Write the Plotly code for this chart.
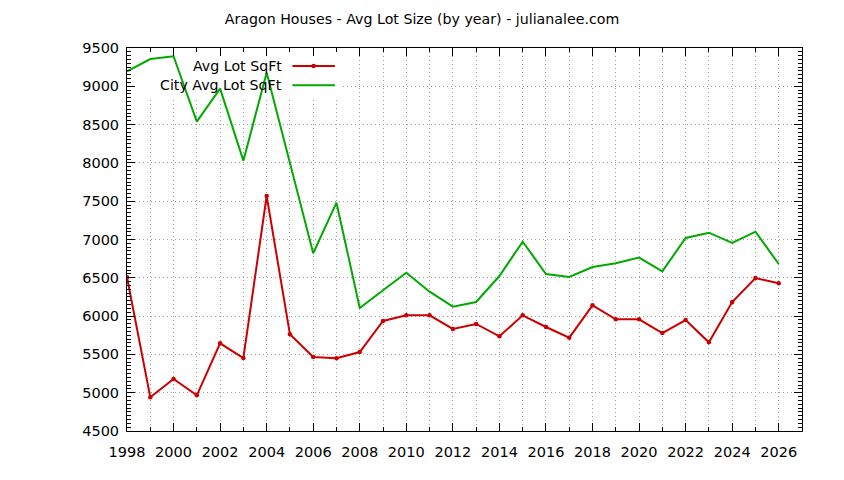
import plotly.graph_objects as go

years = list(range(1998, 2027))
avg_lot_sqft = [6507, 4940, 5179, 4966, 5645, 5453, 7568, 5762, 5466, 5449,
                5531, 5936, 6010, 6010, 5832, 5897, 5736, 6010, 5858, 5718,
                6141, 5958, 5958, 5779, 5949, 5658, 6184, 6497, 6428]
city_avg_lot_sqft = [9195, 9356, 9392, 8538, 8969, 8029, 9178, 7995, 6820, 7481,
                     6106, 6337, 6567, 6319, 6123, 6184, 6523, 6972, 6550, 6510,
                     6641, 6689, 6763, 6584, 7020, 7089, 6954, 7102, 6680]
series_names = ["Avg Lot SqFt", "City Avg Lot SqFt"]
title_text = "Aragon Houses - Avg Lot Size (by year) - julianalee.com"

X_RANGE = [1998, 2027]
Y_RANGE = [4500, 9500]

RED = "#cc0000"
GREEN = "#00aa00"
GRID = "#a0a0a0"
DOT = "1px,3px"
FONT = "DejaVu Sans"

fig = go.Figure()

# white key background (covers grid, sits under the data lines)
bx0 = X_RANGE[0] + 0.002 * (X_RANGE[1] - X_RANGE[0])
bx1 = X_RANGE[0] + 0.32 * (X_RANGE[1] - X_RANGE[0])
by0 = Y_RANGE[0] + 0.87 * (Y_RANGE[1] - Y_RANGE[0])
by1 = Y_RANGE[0] + 0.997 * (Y_RANGE[1] - Y_RANGE[0])
fig.add_trace(go.Scatter(x=[bx0, bx1, bx1, bx0, bx0], y=[by0, by0, by1, by1, by0],
                         mode="lines", fill="toself", fillcolor="white",
                         line=dict(width=0, color="white"),
                         hoverinfo="skip", showlegend=False))

fig.add_trace(go.Scatter(x=years, y=avg_lot_sqft, mode="lines+markers",
                         name=series_names[0],
                         line=dict(color=RED, width=2),
                         marker=dict(color=RED, size=4.5, symbol="circle"),
                         showlegend=False))
fig.add_trace(go.Scatter(x=years, y=city_avg_lot_sqft, mode="lines",
                         name=series_names[1],
                         line=dict(color=GREEN, width=2),
                         showlegend=False))

# Manual gnuplot-style key (text right-aligned, sample to the right)
key_y = [0.953, 0.903]
colors = [RED, GREEN]
for name, ky, c in zip(series_names, key_y, colors):
    fig.add_annotation(xref="x domain", yref="y domain", x=0.232, y=ky,
                       text=name, showarrow=False, xanchor="right",
                       yanchor="middle", font=dict(family=FONT, size=14.2, color="black"))
    fig.add_shape(type="line", xref="x domain", yref="y domain",
                  x0=0.245, x1=0.308, y0=ky, y1=ky,
                  line=dict(color=c, width=2), layer="above")
fig.add_shape(type="circle", xref="x domain", yref="y domain",
              x0=0.2765 - 0.0033, x1=0.2765 + 0.0033,
              y0=key_y[0] - 0.0058, y1=key_y[0] + 0.0058,
              fillcolor=RED, line=dict(color=RED, width=0), layer="above")

fig.update_layout(
    width=844, height=480, autosize=False,
    margin=dict(l=127, r=42, t=48, b=49, pad=0),
    paper_bgcolor="white", plot_bgcolor="white",
    font=dict(family=FONT, size=14.5, color="black"),
    title=dict(text=title_text, x=0.5, xanchor="center", y=0.96, yanchor="middle",
               font=dict(family=FONT, size=14.2, color="black")),
    showlegend=False,
    xaxis=dict(range=X_RANGE, tickmode="linear", tick0=1998, dtick=2,
               ticks="inside", ticklen=8, tickwidth=1, tickcolor="black",
               showline=True, linecolor="black", linewidth=1, mirror="allticks",
               showgrid=True, gridcolor=GRID, griddash=DOT, gridwidth=1,
               zeroline=False, automargin=False, ticklabelstandoff=8,
               tickfont=dict(family=FONT, size=14.5, color="black"),
               minor=dict(tick0=1998, dtick=1, ticks="inside", ticklen=4,
                          tickcolor="black", showgrid=True, gridcolor=GRID,
                          griddash=DOT, gridwidth=1)),
    yaxis=dict(range=Y_RANGE, tickmode="linear", tick0=4500, dtick=500,
               ticks="inside", ticklen=8, tickwidth=1, tickcolor="black",
               showline=True, linecolor="black", linewidth=1, mirror="allticks",
               showgrid=True, gridcolor=GRID, griddash=DOT, gridwidth=1,
               zeroline=False, automargin=False, ticklabelstandoff=4,
               tickfont=dict(family=FONT, size=14.5, color="black"),
               minor=dict(tick0=4500, dtick=50, ticks="inside", ticklen=4,
                          tickcolor="black", showgrid=False)),
)

fig.write_html("out.html", config={"displayModeBar": False},
               post_script="document.body.style.margin='0px';")
